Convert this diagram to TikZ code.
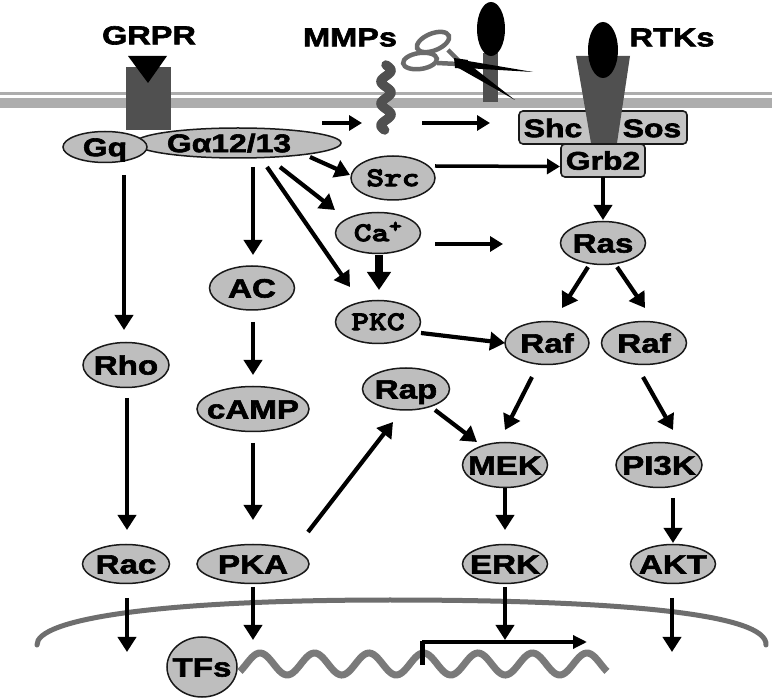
\documentclass[tikz,border=0pt]{standalone}
\usepackage{fontspec}
\usetikzlibrary{arrows.meta,shapes.geometric,calc}
\newfontfamily\labfont{Liberation Sans}[FakeStretch=1.25]
\newfontfamily\slabfont{lmmonolt10-bold.otf}[FakeStretch=1.25]
\definecolor{ellfill}{HTML}{BEBEBE}
\definecolor{boxfill}{HTML}{C4C4C4}
\definecolor{recgray}{HTML}{505050}
\definecolor{memgray}{HTML}{ADADAD}
\definecolor{nucgray}{HTML}{6E6E6E}
\definecolor{dnagray}{HTML}{7A7A7A}
\definecolor{scgray}{HTML}{6A6A6A}
\newcommand{\heavy}[2]{\special{pdf:literal direct 2 Tr #1 w}#2\special{pdf:literal direct 0 Tr}}
\newcommand{\lbl}[1]{\makebox[0pt]{\smash{\raisebox{-0.36em}{\heavy{0.6}{#1}}}}}
\newcommand{\slbl}[1]{\makebox[0pt]{\smash{\raisebox{-0.30em}{\heavy{1.0}{#1}}}}}
\tikzset{
  ell/.style={ellipse, draw=black!90, line width=1.5pt, fill=ellfill, inner sep=0pt,
    font=\labfont\bfseries\fontsize{26.5}{30}\selectfont},
  sell/.style={ell, font=\slabfont\fontsize{27}{30}\selectfont},
  arr/.style={-{Triangle[length=15pt,width=18pt]}, line width=4.2pt},
  tarr/.style={-{Triangle[length=13pt,width=15pt]}, line width=3.5pt},
  tharr/.style={-{Triangle[length=18pt,width=23pt]}, line width=8pt},
  boxnode/.style={rectangle, rounded corners=4pt, draw=black!90, line width=1.6pt,
    fill=boxfill, inner sep=0pt, font=\labfont\bfseries\fontsize{25.5}{30}\selectfont},
  title/.style={inner sep=0pt, font=\labfont\bfseries\fontsize{26}{30}\selectfont},
}
\begin{document}
\begin{tikzpicture}[x=1pt,y=-1pt]
\useasboundingbox[fill=white] (0,0) rectangle (772,700);

% cell membrane
\draw[memgray, line width=3pt] (0,93.5) -- (772,93.5);
\draw[memgray, line width=10pt] (0,103) -- (772,103);

% GRPR receptor
\fill[recgray] (126,67) rectangle (171,130);
\fill[black] (128,56) -- (167,56) -- (148,83) -- cycle;
\node[title] (grpr) at (149,35) {\lbl{GRPR}};

% MMPs
\node[title] (mmps) at (350,37) {\lbl{MMPs}};
\coordinate (frag) at (386,98);
\draw[recgray, line width=9.5pt, line cap=round] plot[domain=65:130, samples=80, smooth] ({386+5*sin((\x-65)/22*360)}, \x);
\fill[recgray] (483,53) rectangle (498,102);
\fill[black] (491,29) ellipse [x radius=14, y radius=27];
% scissors
\draw[scgray, line width=4.5pt] (448,50) -- (460,62);
\draw[scgray, line width=4.5pt] (437,63) -- (458,64);
\draw[scgray, line width=4.5pt, fill=white, rotate around={22:(433,42)}] (433,42) ellipse [x radius=17, y radius=8.5];
\draw[scgray, line width=4.5pt, fill=white, rotate around={8:(420,61)}] (420,61) ellipse [x radius=17, y radius=8];
\fill[black] (454,58) -- (468,60) -- (467,69) -- (455,68) -- cycle;
\fill[black] (462,60) -- (533,72) -- (465,68) -- cycle;
\fill[black] (455,66) -- (465,61) -- (515,100) -- cycle;

% RTKs
\node[title] (rtks) at (672,37) {\lbl{RTKs}};
\node[boxnode, minimum width=84pt, minimum height=33pt] (grb2) at (603,160.5) {\lbl{Grb2}};
\node[boxnode, minimum width=168pt, minimum height=33pt] (shcsos) at (603,127.5) {};
\node[title, font=\labfont\bfseries\fontsize{25.5}{30}\selectfont] (shc) at (553,128) {\lbl{Shc}};
\node[title, font=\labfont\bfseries\fontsize{25.5}{30}\selectfont] (sos) at (652,128) {\lbl{Sos}};
\fill[recgray] (576,56) -- (630,56) -- (617,143) -- (591,143) -- cycle;
\fill[black] (603,50) ellipse [x radius=15, y radius=28];

% G proteins
\node[ell, minimum width=206pt, minimum height=30pt, font=\labfont\bfseries\fontsize{25.5}{30}\selectfont] (ga) at (238,143) {\lbl{\hspace*{-18pt}Gα12/13}};
\node[ell, minimum width=84pt, minimum height=31pt, font=\labfont\bfseries\fontsize{25.5}{30}\selectfont] (gq) at (105,147) {\lbl{Gq}};

% signalling nodes
\node[sell, minimum width=84pt, minimum height=44pt] (src) at (393,178) {\slbl{Src}};
\node[sell, minimum width=85pt, minimum height=41pt] (ca) at (378,233) {\slbl{Ca\textsuperscript{+}}};
\node[sell, minimum width=85pt, minimum height=43pt] (pkc) at (378,322) {\slbl{PKC}};
\node[ell, minimum width=85pt, minimum height=44pt] (ac) at (252,288) {\lbl{AC}};
\node[ell, minimum width=86pt, minimum height=45pt] (rho) at (126,365) {\lbl{Rho}};
\node[ell, minimum width=112pt, minimum height=45pt] (camp) at (253,409) {\lbl{cAMP}};
\node[ell, minimum width=87pt, minimum height=42pt] (rap) at (406,389) {\lbl{Rap}};
\node[ell, minimum width=85pt, minimum height=43pt] (ras) at (603,243) {\lbl{Ras}};
\node[ell, minimum width=84pt, minimum height=43pt] (raf1) at (547,343) {\lbl{Raf}};
\node[ell, minimum width=85pt, minimum height=43pt] (raf2) at (644,343) {\lbl{Raf}};
\node[ell, minimum width=85pt, minimum height=45pt] (mek) at (505,465) {\lbl{MEK}};
\node[ell, minimum width=86pt, minimum height=45pt] (pi3k) at (659,465) {\lbl{PI3K}};
\node[ell, minimum width=87pt, minimum height=39pt] (rac) at (126,564) {\lbl{Rac}};
\node[ell, minimum width=112pt, minimum height=39pt] (pka) at (253,564) {\lbl{PKA}};
\node[ell, minimum width=85pt, minimum height=39pt] (erk) at (505,564) {\lbl{ERK}};
\node[ell, minimum width=85pt, minimum height=39pt] (akt) at (673,564) {\lbl{AKT}};

% nucleus
\draw[nucgray, line width=5pt, line cap=round] (37,645) .. controls (36,620) and (150,600) .. (390,600) .. controls (630,600) and (768,615) .. (766,645);
\draw[dnagray, line width=7pt] plot[domain=240:607, samples=160, smooth] (\x, {664-11*cos((\x-260)/54.5*360)});
\node[ell, minimum width=70pt, minimum height=60pt] (tfs) at (202,667) {\lbl{TFs}};
\coordinate (prom) at (422,665);
\draw[black, line width=5pt] (prom) -- ++(0,-24);
\draw[black, line width=3.3pt, -{Triangle[length=14pt,width=13pt]}] ($(prom)+(0,-23)$) -- ++(165,0);

% arrows
\draw[arr] ($(gq)+(19,28)$) -- ($(rho)+(-2,-35)$);
\draw[arr] ($(rho)+(1,33)$) -- ($(rac)+(1,-34)$);
\draw[arr] ($(ga)+(15,24)$) -- ($(ac)+(1,-33)$);
\draw[arr] ($(ac)+(1,34)$) -- ($(camp)+(0,-34)$);
\draw[arr] ($(camp)+(0,34)$) -- ($(pka)+(0,-44)$);
\draw[arr] ($(ga)+(29,24)$) -- ($(pkc)+(-28,-35)$);
\draw[arr] ($(ga)+(42,24)$) -- ($(ca)+(-43,-23)$);
\draw[arr] ($(ga)+(72,14)$) -- ($(src)+(-43,-3)$);
\draw[tharr] ($(ca)+(1,22)$) -- ($(pkc)+(1,-32)$);
\draw[tarr] ($(ca)+(57,11)$) -- ($(ras)+(-100,1)$);
\draw[tarr] ($(src)+(42,-12)$) -- ($(grb2)+(-43,6)$);
\draw[tarr] ($(ga)+(84,-20)$) -- ($(frag)+(-24,25)$);
\draw[tarr] ($(frag)+(36,25)$) -- ($(shcsos)+(-113,-4.5)$);
\draw[arr] ($(pkc)+(43,11)$) -- ($(raf1)+(-42,0)$);
\draw[arr] ($(grb2)+(0,17)$) -- ($(ras)+(0,-23)$);
\draw[arr] ($(ras)+(-15,24)$) -- ($(raf1)+(15,-35)$);
\draw[arr] ($(ras)+(14,24)$) -- ($(raf2)+(1,-35)$);
\draw[arr] ($(raf1)+(-15,34)$) -- ($(mek)+(0,-35)$);
\draw[arr] ($(raf2)+(-1,34)$) -- ($(pi3k)+(14,-35)$);
\draw[arr] ($(rap)+(29,21)$) -- ($(mek)+(-28,-23)$);
\draw[arr] ($(pka)+(55,-32)$) -- ($(rap)+(-13,33)$);
\draw[arr] ($(mek)+(0,23)$) -- ($(erk)+(0,-34)$);
\draw[arr] ($(pi3k)+(14,33)$) -- ($(akt)+(0,-21)$);
\draw[arr] ($(rac)+(1,34)$) -- ($(rac)+(1,88)$);
\draw[arr] ($(pka)+(0,23)$) -- ($(pka)+(0,76)$);
\draw[arr] ($(erk)+(0,23)$) -- ($(erk)+(0,76)$);
\draw[arr] ($(akt)+(-1,34)$) -- ($(akt)+(-1,88)$);
\end{tikzpicture}
\end{document}
